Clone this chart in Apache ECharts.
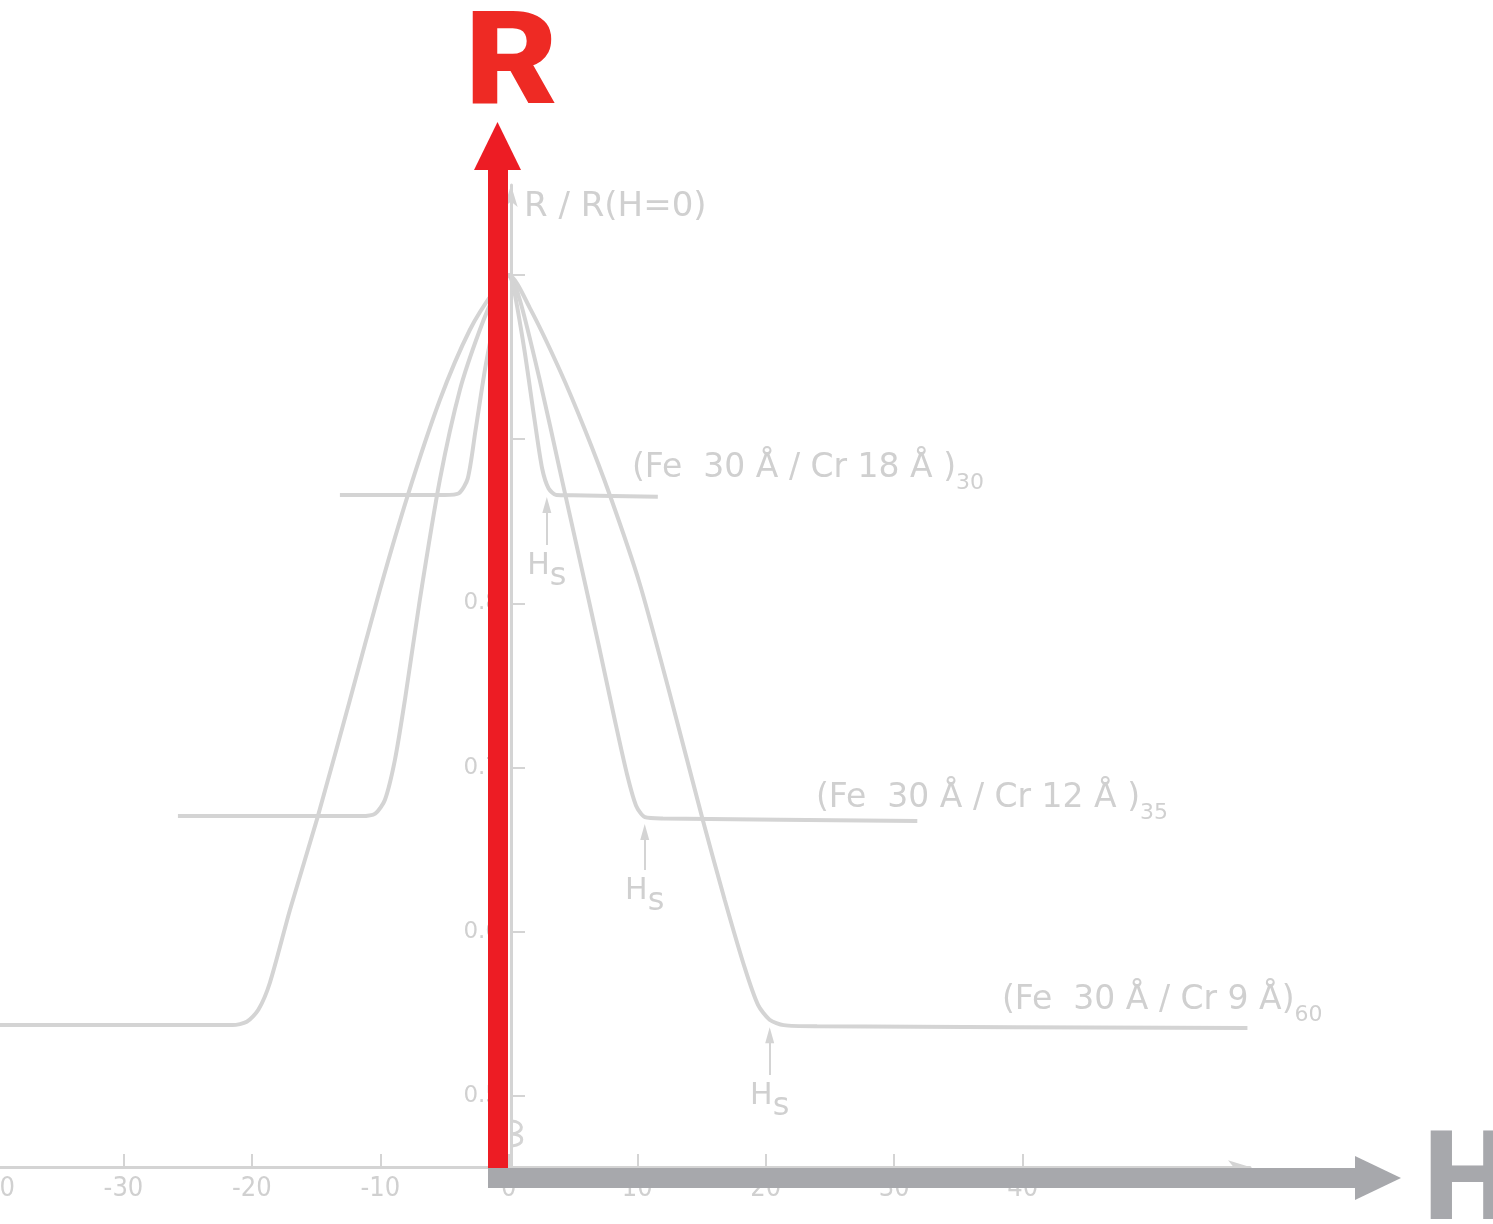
<!DOCTYPE html>
<html>
<head>
<meta charset="utf-8">
<script src="https://cdn.jsdelivr.net/npm/echarts@6/dist/echarts.min.js"></script>
<style>
html,body{margin:0;padding:0;background:#fff;}
#chart{width:1493px;height:1224px;}
</style>
</head>
<body>
<div id="chart"></div>
<script>
// ---- data (H in kG, R/R(H=0)) ----
const xTicks = [-40, -30, -20, -10, 0, 10, 20, 30, 40];
const yTicks = [0.5, 0.6, 0.7, 0.8, 0.9, 1.0];
const yLabels = [0.5, 0.6, 0.7, 0.8];

const hCr18 = [-13.15, -5.0, -3.9, -3.2, -2.6, -1.8, -1.0, 0, 0.3, 1.2, 2.0, 2.6, 3.1, 3.7, 5.0, 11.6];
const rCr18 = [0.866, 0.866, 0.867, 0.876, 0.905, 0.945, 0.975, 1.0, 0.995, 0.955, 0.912, 0.882, 0.870, 0.866, 0.8658, 0.865];

const hCr12 = [-25.76, -11.5, -10.4, -9.65, -8.87, -8.09, -6.93, -5.37, -3.81, -2.26, -1.09, 0, 0.86, 2.41, 3.97, 5.53, 7.08, 8.25, 9.2, 9.9, 10.6, 12.0, 31.8];
const rCr12 = [0.6705, 0.6705, 0.672, 0.6803, 0.7046, 0.7412, 0.8021, 0.8752, 0.93, 0.9665, 0.9878, 1.0, 0.9848, 0.936, 0.8812, 0.8264, 0.7716, 0.729, 0.696, 0.677, 0.6698, 0.669, 0.6675];

const hCr9 = [-40, -21.5, -20.4, -19.5, -18.6, -17.04, -14.86, -12.37, -10.04, -7.86, -5.37, -3.04, -1.09, 0, 1.63, 3.97, 5.91, 7.86, 10.19, 12.53, 15.1, 16.81, 18.37, 19.4, 20.3, 21.4, 24.0, 57.5];
const rCr9 = [0.5432, 0.5432, 0.5452, 0.5525, 0.569, 0.6133, 0.6705, 0.7412, 0.8082, 0.866, 0.9239, 0.9665, 0.9909, 1.0, 0.980, 0.942, 0.906, 0.866, 0.812, 0.745, 0.6681, 0.6194, 0.578, 0.5555, 0.5465, 0.5432, 0.5425, 0.5414];

// saturation field markers: [H, R start, R end]
const hsCr18 = [2.96, 0.8356, 0.8599];
const hsCr12 = [10.58, 0.6376, 0.6608];
const hsCr9 = [20.31, 0.5128, 0.5371];

const seriesNames = ['(Fe 30 Å/Cr 18 Å)30', '(Fe 30 Å/Cr 12 Å)35', '(Fe 30 Å/Cr 9 Å)60'];

// ---- styles ----
const LIGHT = '#d4d4d4';
const TXT = '#d0d0d0';
const RED = '#ed1c24';
const GREY = '#a7a8ac';
const FONT = 'DejaVu Sans';
const NARROW = '"DejaVu Sans Condensed", "Liberation Sans Narrow", "DejaVu Sans"';

function pairs(h, r) { return h.map((v, i) => [v, r[i]]); }

function hsMark(hs) {
  return {
    silent: true,
    animation: false,
    symbol: ['none', 'triangle'],
    symbolSize: [9, 16],
    lineStyle: { color: LIGHT, width: 2, type: 'solid' },
    label: {
      show: true,
      position: 'start',
      distance: 6,
      formatter: '{h|H}{s|s}',
      rich: {
        h: { fontFamily: FONT, fontSize: 30, color: TXT, verticalAlign: 'top', lineHeight: 30 },
        s: { fontFamily: FONT, fontSize: 32, color: TXT, verticalAlign: 'top', lineHeight: 30, padding: [10, 0, 0, 0] }
      }
    },
    data: [[{ coord: [hs[0], hs[1]] }, { coord: [hs[0], hs[2]] }]]
  };
}

function lineSeries(name, h, r, hs) {
  return {
    name: name,
    type: 'line',
    data: pairs(h, r),
    smooth: 0.25,
    showSymbol: false,
    symbol: 'none',
    lineStyle: { color: LIGHT, width: 4 },
    silent: true,
    animation: false,
    markLine: hsMark(hs)
  };
}

const chart = echarts.init(document.getElementById('chart'));

function labelText(main, sub, x, y) {
  return {
    type: 'text', x: x, y: y, z: 50, silent: true,
    style: {
      text: '{m|' + main + '}{s|' + sub + '}',
      rich: {
        m: { fontFamily: FONT, fontSize: 33, fill: TXT, verticalAlign: 'top', lineHeight: 40 },
        s: { fontFamily: FONT, fontSize: 22, fill: TXT, verticalAlign: 'top', lineHeight: 22, padding: [20, 0, 0, 0] }
      }
    }
  };
}

const option = {
  backgroundColor: '#ffffff',
  animation: false,
  grid: { left: -5, right: 243, top: 185, bottom: 57, containLabel: false, outerBoundsMode: 'none' },
  xAxis: {
    type: 'value',
    min: -40,
    max: 57.7,
    axisLine: { show: true, onZero: false, lineStyle: { color: LIGHT, width: 3 }, symbol: ['none', 'arrow'], symbolSize: [10, 22] },
    axisTick: { show: true, inside: true, length: 13, lineStyle: { color: LIGHT, width: 2 }, customValues: xTicks },
    axisLabel: { show: true, customValues: xTicks, color: TXT, fontFamily: NARROW, fontSize: 27, margin: 8, hideOverlap: false },
    splitLine: { show: false }
  },
  yAxis: {
    type: 'value',
    min: 0.4568,
    max: 1.0548,
    offset: -516,
    axisLine: { show: true, onZero: false, lineStyle: { color: LIGHT, width: 3 }, symbol: ['none', 'arrow'], symbolSize: [10, 22] },
    axisTick: { show: true, inside: true, length: 14, lineStyle: { color: LIGHT, width: 2 }, customValues: yTicks },
    axisLabel: { show: true, customValues: yLabels, color: TXT, fontFamily: FONT, fontSize: 23, margin: 11,
      formatter: v => v.toFixed(1) },
    splitLine: { show: false }
  },
  series: [
    lineSeries(seriesNames[0], hCr18, rCr18, hsCr18),
    lineSeries(seriesNames[1], hCr12, rCr12, hsCr12),
    lineSeries(seriesNames[2], hCr9, rCr9, hsCr9)
  ],
  graphic: [
    // axis title
    { type: 'text', x: 524, y: 190, z: 50, silent: true,
      style: { text: 'R / R(H=0)', fontFamily: FONT, fontSize: 34, fill: TXT } },
    labelText('(Fe  30 Å / Cr 18 Å )', '30', 632, 452),
    labelText('(Fe  30 Å / Cr 12 Å )', '35', 816, 782),
    labelText('(Fe  30 Å / Cr 9 Å)', '60', 1002, 984),
    // axis break
    { type: 'bezierCurve', z: 60, silent: true,
      shape: { x1: 512, y1: 1121, cpx1: 524, cpy1: 1122, cpx2: 525, cpy2: 1132, x2: 512, y2: 1134 },
      style: { stroke: LIGHT, lineWidth: 3, fill: null } },
    { type: 'bezierCurve', z: 60, silent: true,
      shape: { x1: 512, y1: 1134, cpx1: 525, cpy1: 1135, cpx2: 525, cpy2: 1144, x2: 512, y2: 1146 },
      style: { stroke: LIGHT, lineWidth: 3, fill: null } },
    // red R arrow
    { type: 'rect', z: 100, silent: true, shape: { x: 488, y: 168, width: 20, height: 1000 }, style: { fill: RED } },
    { type: 'polygon', z: 100, silent: true, shape: { points: [[474, 170], [521, 170], [497.5, 122]] }, style: { fill: RED } },
    // grey H arrow
    { type: 'rect', z: 100, silent: true, shape: { x: 488, y: 1168, width: 870, height: 20 }, style: { fill: GREY } },
    { type: 'polygon', z: 100, silent: true, shape: { points: [[1355, 1156], [1355, 1200], [1401, 1178]] }, style: { fill: GREY } },
    // big letters
    { type: 'text', x: 465, y: 6, z: 100, silent: true, scaleX: 1.1,
      style: { text: 'R', fontFamily: 'Roboto', fontWeight: 900, fontSize: 130, fill: '#ee2a24' } },
    { type: 'text', x: 1424, y: 1126, z: 100, silent: true,
      style: { text: 'H', fontFamily: 'Roboto', fontWeight: 900, fontSize: 124, fill: GREY } }
  ]
};

chart.setOption(option);
</script>
</body>
</html>
